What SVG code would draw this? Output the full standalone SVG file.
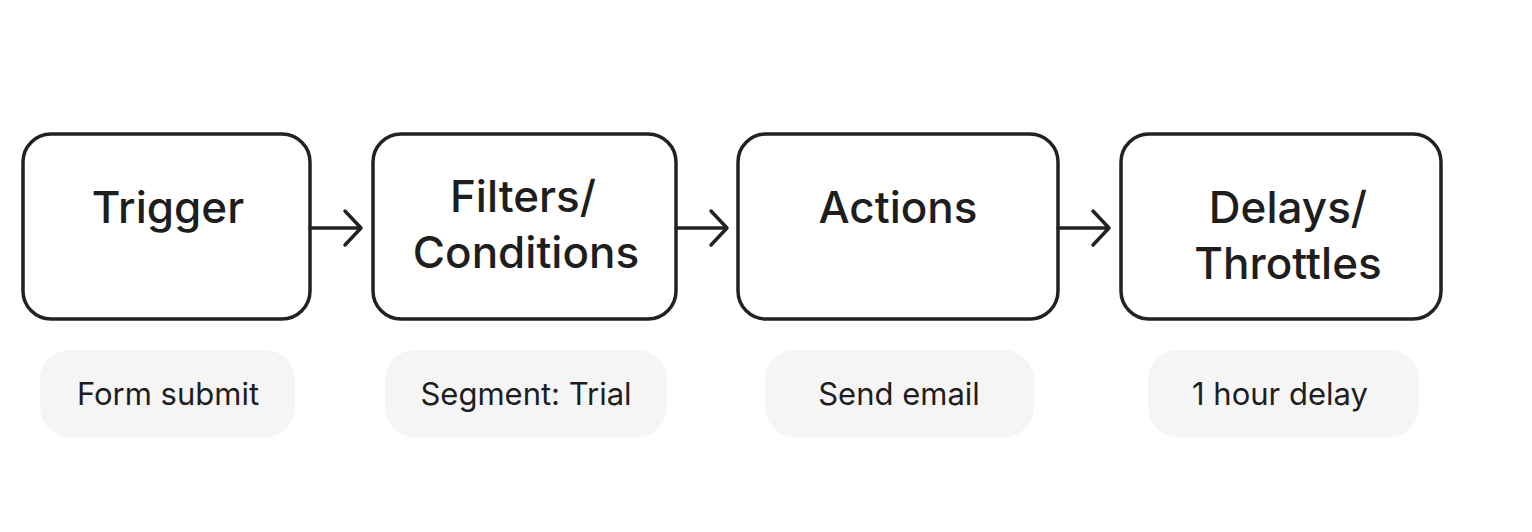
<svg xmlns="http://www.w3.org/2000/svg" width="1532" height="532" viewBox="0 0 1532 532">
<style>
.box{fill:#fff;stroke:#222;stroke-width:3.5}
.pill{fill:#f5f5f6}
.t{font-family:Inter,"Liberation Sans",sans-serif;font-size:44px;fill:#1e1e1e;text-anchor:middle;font-weight:500}
.s{font-family:Inter,"Liberation Sans",sans-serif;font-size:31px;fill:#1e1e1e;text-anchor:middle}
.c{fill:none;stroke:#222;stroke-width:3.5;stroke-linecap:round;stroke-linejoin:round}
</style>
<rect width="1532" height="532" fill="#fff"/>
<g id="trigger"><rect class="box" x="23" y="134" width="287" height="185" rx="28"/><text class="t" x="168" y="223">Trigger</text></g>
<g id="filters"><rect class="box" x="373" y="134" width="303" height="185" rx="28"/><text class="t" x="523" y="212">Filters/</text><text class="t" x="526" y="268">Conditions</text></g>
<g id="actions"><rect class="box" x="738" y="134" width="320" height="185" rx="28"/><text class="t" x="898" y="223">Actions</text></g>
<g id="delays"><rect class="box" x="1121" y="134" width="320" height="185" rx="28"/><text class="t" x="1288" y="223">Delays/</text><text class="t" x="1288" y="279">Throttles</text></g>
<g id="form"><rect class="pill" x="40" y="350" width="255" height="87" rx="30"/><text class="s" x="168" y="405">Form submit</text></g>
<g id="segment"><rect class="pill" x="385" y="350" width="282" height="87" rx="30"/><text class="s" x="526" y="405">Segment: Trial</text></g>
<g id="send"><rect class="pill" x="765" y="350" width="269" height="87" rx="30"/><text class="s" x="899" y="405">Send email</text></g>
<g id="hour"><rect class="pill" x="1148" y="350" width="271" height="87" rx="30"/><text class="s" x="1280" y="405">1 hour delay</text></g>
<g id="connectors">
<path class="c" d="M310 228H360M345 211L361 228L345 245"/>
<path class="c" d="M676 228H726M711 211L727 228L711 245"/>
<path class="c" d="M1058 228H1108M1093 211L1109 228L1093 245"/>
</g>
</svg>
